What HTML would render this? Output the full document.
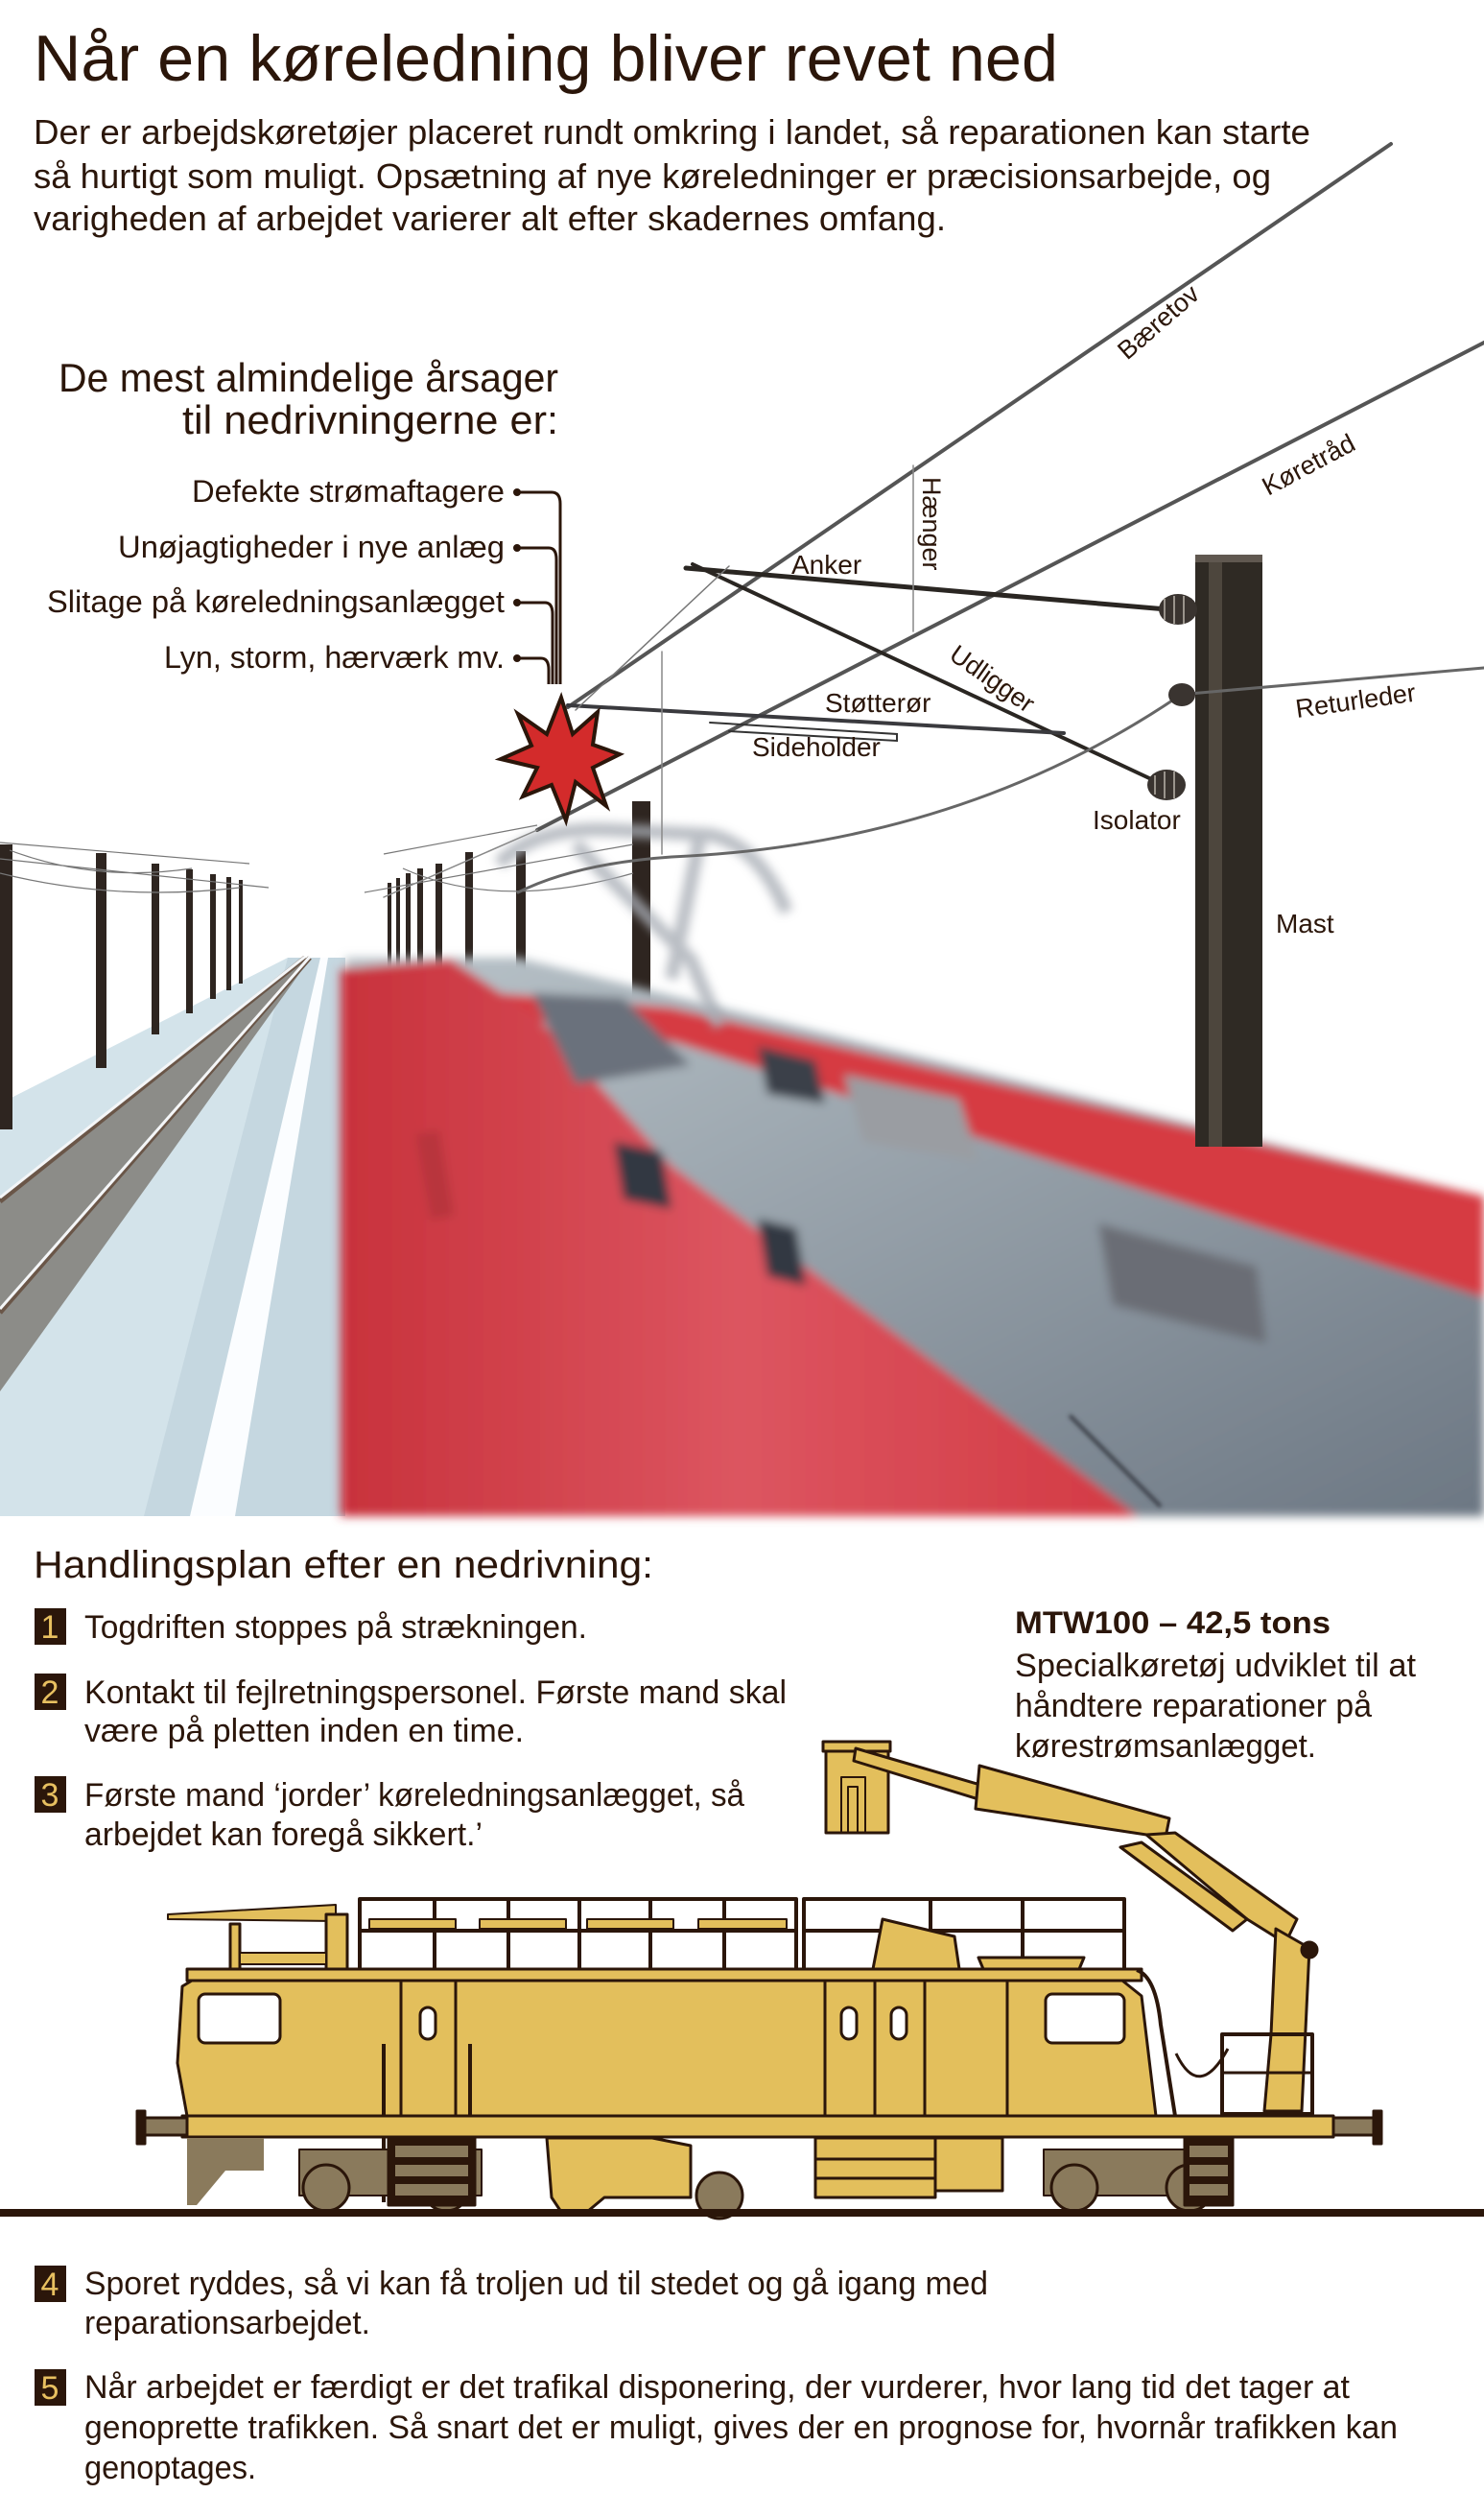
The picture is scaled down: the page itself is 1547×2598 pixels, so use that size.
<!DOCTYPE html>
<html><head><meta charset="utf-8">
<style>
html,body{margin:0;padding:0;background:#fff;}
svg{display:block;}
text{font-family:"Liberation Sans Narrow","Liberation Sans",sans-serif;fill:#2b160a;}
</style></head>
<body>
<svg width="1547" height="2598" viewBox="0 0 1547 2598" xmlns="http://www.w3.org/2000/svg">
<defs>
<filter id="bl" x="-20%" y="-20%" width="140%" height="140%"><feGaussianBlur stdDeviation="5"/></filter>
<filter id="bl2" x="-20%" y="-20%" width="140%" height="140%"><feGaussianBlur stdDeviation="2"/></filter>
<linearGradient id="gr" x1="0" y1="0" x2="1" y2="1"><stop offset="0" stop-color="#b9c3c9"/><stop offset="1" stop-color="#6c7783"/></linearGradient>
<linearGradient id="rd" x1="0" y1="0" x2="1" y2="0"><stop offset="0" stop-color="#c8323c"/><stop offset="0.5" stop-color="#dc5560"/><stop offset="1" stop-color="#d33a44"/></linearGradient>
</defs>

<!-- ===== Header text ===== -->
<text x="35" y="84" font-size="68" textLength="1068" lengthAdjust="spacingAndGlyphs">Når en køreledning bliver revet ned</text>
<text x="35" y="150" font-size="36" textLength="1331" lengthAdjust="spacingAndGlyphs">Der er arbejdskøretøjer placeret rundt omkring i landet, så reparationen kan starte</text>
<text x="35" y="196" font-size="36" textLength="1290" lengthAdjust="spacingAndGlyphs">så hurtigt som muligt. Opsætning af nye køreledninger er præcisionsarbejde, og</text>
<text x="35" y="240" font-size="36" textLength="951" lengthAdjust="spacingAndGlyphs">varigheden af arbejdet varierer alt efter skadernes omfang.</text>

<!-- ===== Photo: ground, track ===== -->
<polygon points="300,998 360,998 360,1580 0,1580 0,1150" fill="#d3e3ea"/>
<polygon points="300,998 360,998 360,1580 150,1580" fill="#c5d7e0"/>
<polygon points="0,1250 318,998 324,998 0,1450" fill="#8c8c88"/>
<g stroke="#6a5648" stroke-width="5">
<line x1="318" y1="998" x2="0" y2="1252"/><line x1="323" y1="998" x2="0" y2="1368"/></g>
<g stroke="#f4f6f8" stroke-width="3">
<line x1="318" y1="997" x2="0" y2="1248"/><line x1="323" y1="997" x2="0" y2="1364"/></g>
<polygon points="334,998 342,998 245,1580 198,1580" fill="#fbfdff"/>
<!-- left poles -->
<g fill="#2e2520">
<rect x="0" y="880" width="13" height="297"/><rect x="100" y="889" width="11" height="224"/>
<rect x="158" y="900" width="8" height="178"/><rect x="194" y="906" width="7" height="150"/>
<rect x="219" y="911" width="6" height="130"/><rect x="236" y="914" width="5" height="118"/>
<rect x="249" y="917" width="4" height="108"/>
<rect x="404" y="920" width="4" height="95"/><rect x="413" y="915" width="4" height="100"/>
<rect x="423" y="910" width="5" height="110"/><rect x="435" y="905" width="6" height="115"/>
<rect x="454" y="900" width="7" height="125"/><rect x="485" y="888" width="8" height="140"/>
<rect x="538" y="887" width="10" height="160"/><rect x="659" y="835" width="19" height="210"/>
</g>
<g stroke="#777" stroke-width="1.2" fill="none">
<path d="M0,878 L260,900 M0,895 L280,925 M10,886 Q100,920 200,905 M0,910 Q120,940 250,925"/>
<path d="M400,890 L560,860 M380,930 L660,880 M420,905 Q520,950 660,910"/>
</g>

<!-- ===== Photo: red train ===== -->
<g filter="url(#bl)">
<polygon points="360,998 540,998 1547,1247 1547,1580 380,1580" fill="url(#gr)"/>
<polygon points="520,1035 700,1050 1547,1247 1547,1352 700,1085 520,1058" fill="#d63a42"/>
<polygon points="355,1010 470,1000 560,1060 700,1215 1186,1580 355,1580" fill="url(#rd)"/>
<rect x="440" y="1180" width="25" height="90" fill="#b8343c" transform="rotate(-10 450 1220)"/>
<polygon points="555,1035 650,1040 720,1110 600,1130" fill="#6a717b"/>
<polygon points="790,1090 850,1105 860,1150 800,1140" fill="#3b3f48"/>
<polygon points="880,1120 1000,1145 1020,1210 900,1190" fill="#9a9da2"/>
<polygon points="1145,1275 1310,1320 1320,1400 1160,1360" fill="#6a6d74"/>
<polygon points="640,1190 690,1200 700,1260 650,1250" fill="#333842"/>
<polygon points="790,1270 830,1280 840,1340 800,1330" fill="#333842"/>
</g>
<line x1="1115" y1="1475" x2="1210" y2="1570" stroke="#3a3e46" stroke-width="4" filter="url(#bl2)"/>

<!-- pantograph blur -->
<g filter="url(#bl)" stroke="#a8adb5" fill="none" stroke-width="14" opacity="0.8">
<path d="M520,900 Q560,860 640,865 L740,870 Q790,880 820,950"/>
<path d="M600,880 L720,1000 L750,1070"/>
<path d="M730,870 L700,1020"/>
</g>

<!-- ===== Mast ===== -->
<rect x="1246" y="578" width="70" height="617" fill="#2f2a24"/>
<rect x="1260" y="578" width="14" height="617" fill="#4d463d"/>
<rect x="1246" y="578" width="70" height="8" fill="#605850"/>

<!-- ===== Wires ===== -->
<g fill="none" stroke-linecap="round">
<line x1="1450" y1="150" x2="592" y2="737" stroke="#555" stroke-width="4"/>
<line x1="1547" y1="357" x2="560" y2="865" stroke="#555" stroke-width="4"/>
<line x1="560" y1="865" x2="400" y2="935" stroke="#888" stroke-width="1.5"/>
<line x1="715" y1="592" x2="1228" y2="636" stroke="#2a2622" stroke-width="5"/>
<line x1="722" y1="588" x2="1213" y2="818" stroke="#2a2622" stroke-width="4"/>
<line x1="592" y1="735" x2="1109" y2="764" stroke="#3a3a3e" stroke-width="4"/>
<polyline points="740,753 935,765 935,772 760,762" stroke="#333" stroke-width="2"/>
<line x1="952" y1="485" x2="952" y2="658" stroke="#888" stroke-width="1.5"/>
<line x1="690" y1="679" x2="690" y2="890" stroke="#888" stroke-width="1.5"/>
<line x1="760" y1="590" x2="600" y2="740" stroke="#777" stroke-width="1.5"/>
<line x1="1228" y1="724" x2="1547" y2="696" stroke="#666" stroke-width="3"/>
<path d="M1228,726 Q1000,880 700,893 Q600,900 540,930" stroke="#666" stroke-width="3"/>
</g>
<g fill="#3a3430">
<ellipse cx="1228" cy="635" rx="20" ry="16"/><ellipse cx="1232" cy="724" rx="14" ry="12"/><ellipse cx="1216" cy="818" rx="20" ry="16"/>
</g>
<g stroke="#9a948c" stroke-width="2">
<line x1="1214" y1="624" x2="1214" y2="646"/><line x1="1224" y1="621" x2="1224" y2="650"/><line x1="1234" y1="621" x2="1234" y2="650"/>
<line x1="1204" y1="808" x2="1204" y2="828"/><line x1="1214" y1="804" x2="1214" y2="832"/><line x1="1224" y1="804" x2="1224" y2="832"/>
</g>

<!-- ===== Star ===== -->
<polygon points="585,727 597,765 623,742 618,776 646,786 618,800 632,840 600,815 590,855 575,818 545,830 560,800 522,791 554,777 540,744 570,765" fill="#d32b2b" stroke="#2b160a" stroke-width="4" stroke-linejoin="miter"/>

<!-- ===== Labels ===== -->
<text font-size="27" transform="translate(1175,376) rotate(-41)">Bæretov</text>
<text font-size="27" transform="translate(1322,517) rotate(-28)">Køretråd</text>
<text font-size="27" transform="translate(962,497) rotate(90)">Hænger</text>
<text x="825" y="598" font-size="28">Anker</text>
<text font-size="27" transform="translate(988,686) rotate(35)">Udligger</text>
<text x="860" y="742" font-size="28">Støtterør</text>
<text x="784" y="788" font-size="28">Sideholder</text>
<text font-size="27" transform="translate(1352,748) rotate(-8)">Returleder</text>
<text x="1139" y="864" font-size="28">Isolator</text>
<text x="1330" y="972" font-size="28">Mast</text>

<!-- ===== Causes ===== -->
<text x="61" y="408" font-size="42" textLength="521" lengthAdjust="spacingAndGlyphs">De mest almindelige årsager</text>
<text x="190" y="452" font-size="42" textLength="392" lengthAdjust="spacingAndGlyphs">til nedrivningerne er:</text>
<g font-size="32">
<text x="200" y="523" textLength="326" lengthAdjust="spacingAndGlyphs">Defekte strømaftagere</text>
<text x="123" y="581" textLength="403" lengthAdjust="spacingAndGlyphs">Unøjagtigheder i nye anlæg</text>
<text x="49" y="638" textLength="477" lengthAdjust="spacingAndGlyphs">Slitage på køreledningsanlægget</text>
<text x="171" y="696" textLength="355" lengthAdjust="spacingAndGlyphs">Lyn, storm, hærværk mv.</text>
</g>
<g fill="none" stroke="#2b160a" stroke-width="3">
<path d="M539,513 L575,513 Q584,513 584,525 L584,713"/>
<path d="M539,571 L572,571 Q580,571 580,583 L580,713"/>
<path d="M539,628 L568,628 Q576,628 576,640 L576,713"/>
<path d="M539,686 L564,686 Q572,686 572,698 L572,713"/>
</g>
<g fill="#2b160a"><circle cx="539" cy="513" r="4"/><circle cx="539" cy="571" r="4"/><circle cx="539" cy="628" r="4"/><circle cx="539" cy="686" r="4"/></g>

<!-- ===== Action plan ===== -->
<text x="35" y="1644" font-size="40" textLength="646" lengthAdjust="spacingAndGlyphs">Handlingsplan efter en nedrivning:</text>
<g font-size="34" fill="#e8c060">
<rect x="36" y="1676" width="33" height="38" fill="#2b160a"/><text x="52" y="1707" text-anchor="middle" style="fill:#e8c060">1</text>
<rect x="36" y="1744" width="33" height="38" fill="#2b160a"/><text x="52" y="1775" text-anchor="middle" style="fill:#e8c060">2</text>
<rect x="36" y="1851" width="33" height="38" fill="#2b160a"/><text x="52" y="1882" text-anchor="middle" style="fill:#e8c060">3</text>
<rect x="36" y="2361" width="33" height="38" fill="#2b160a"/><text x="52" y="2392" text-anchor="middle" style="fill:#e8c060">4</text>
<rect x="36" y="2469" width="33" height="38" fill="#2b160a"/><text x="52" y="2500" text-anchor="middle" style="fill:#e8c060">5</text>
</g>
<g font-size="34">
<text x="88" y="1707" textLength="524" lengthAdjust="spacingAndGlyphs">Togdriften stoppes på strækningen.</text>
<text x="88" y="1775" textLength="732" lengthAdjust="spacingAndGlyphs">Kontakt til fejlretningspersonel. Første mand skal</text>
<text x="88" y="1815" textLength="458" lengthAdjust="spacingAndGlyphs">være på pletten inden en time.</text>
<text x="88" y="1882" textLength="688" lengthAdjust="spacingAndGlyphs">Første mand ‘jorder’ køreledningsanlægget, så</text>
<text x="88" y="1923" textLength="415" lengthAdjust="spacingAndGlyphs">arbejdet kan foregå sikkert.’</text>
<text x="1058" y="1702" textLength="329" lengthAdjust="spacingAndGlyphs" font-weight="bold" font-size="32">MTW100 – 42,5 tons</text>
<text x="1058" y="1747" textLength="418" lengthAdjust="spacingAndGlyphs">Specialkøretøj udviklet til at</text>
<text x="1058" y="1789" textLength="372" lengthAdjust="spacingAndGlyphs">håndtere reparationer på</text>
<text x="1058" y="1831" textLength="314" lengthAdjust="spacingAndGlyphs">kørestrømsanlægget.</text>
<text x="88" y="2391" textLength="942" lengthAdjust="spacingAndGlyphs">Sporet ryddes, så vi kan få troljen ud til stedet og gå igang med</text>
<text x="88" y="2432" textLength="298" lengthAdjust="spacingAndGlyphs">reparationsarbejdet.</text>
<text x="88" y="2499" textLength="1319" lengthAdjust="spacingAndGlyphs">Når arbejdet er færdigt er det trafikal disponering, der vurderer, hvor lang tid det tager at</text>
<text x="88" y="2541" textLength="1369" lengthAdjust="spacingAndGlyphs">genoprette trafikken. Så snart det er muligt, gives der en prognose for, hvornår trafikken kan</text>
<text x="88" y="2583" textLength="179" lengthAdjust="spacingAndGlyphs">genoptages.</text>
</g>

<!-- ===== MTW100 drawing ===== -->
<g stroke="#2b160a" stroke-width="3" fill="#e3bf5c" stroke-linejoin="round">
<g fill="none" stroke-width="4">
<rect x="375" y="1979" width="455" height="74"/>
<line x1="375" y1="2012" x2="830" y2="2012"/>
<line x1="453" y1="1979" x2="453" y2="2053"/><line x1="530" y1="1979" x2="530" y2="2053"/>
<line x1="604" y1="1979" x2="604" y2="2053"/><line x1="678" y1="1979" x2="678" y2="2053"/>
<line x1="755" y1="1979" x2="755" y2="2053"/>
<rect x="838" y="1979" width="334" height="74"/>
<line x1="838" y1="2012" x2="1172" y2="2012"/>
<line x1="970" y1="1979" x2="970" y2="2053"/><line x1="1066" y1="1979" x2="1066" y2="2053"/>
</g>
<rect x="385" y="2000" width="90" height="10" stroke-width="2"/><rect x="500" y="2000" width="90" height="10" stroke-width="2"/>
<rect x="612" y="2000" width="90" height="10" stroke-width="2"/><rect x="728" y="2000" width="92" height="10" stroke-width="2"/>
<polygon points="910,2052 920,2000 995,2018 1000,2052" fill="#e3bf5c"/>
<polygon points="1020,2040 1130,2040 1125,2052 1025,2052"/>
<path d="M175,1995 L350,1985 L350,2002 L175,2000 Z" stroke-width="2"/>
<rect x="240" y="2005" width="10" height="50"/><rect x="340" y="1995" width="22" height="60"/>
<rect x="250" y="2035" width="90" height="12" stroke-width="2"/>
<rect x="195" y="2052" width="995" height="12"/>
<polygon points="200,2064 1170,2064 1190,2080 1205,2205 195,2205 185,2150 190,2070"/>
<rect x="207" y="2078" width="85" height="51" rx="7" fill="#fff"/>
<rect x="1090" y="2078" width="82" height="51" rx="7" fill="#fff"/>
<g fill="none"><line x1="418" y1="2064" x2="418" y2="2205"/><line x1="475" y1="2064" x2="475" y2="2205"/>
<line x1="860" y1="2064" x2="860" y2="2205"/><line x1="912" y1="2064" x2="912" y2="2205"/>
<line x1="964" y1="2064" x2="964" y2="2205"/><line x1="1050" y1="2064" x2="1050" y2="2205"/>
<line x1="400" y1="2130" x2="400" y2="2295" stroke-width="4"/><line x1="490" y1="2130" x2="490" y2="2295" stroke-width="4"/></g>
<rect x="438" y="2092" width="16" height="33" rx="8" fill="#fff"/>
<rect x="877" y="2092" width="16" height="33" rx="8" fill="#fff"/>
<rect x="929" y="2092" width="16" height="33" rx="8" fill="#fff"/>
<path d="M1185,2053 Q1205,2060 1210,2110 L1225,2205" fill="none" stroke-width="4"/>
<rect x="190" y="2205" width="1200" height="22"/>
<rect x="150" y="2207" width="45" height="18" fill="#8a7a5c"/><rect x="143" y="2200" width="8" height="34" fill="#2b160a"/>
<rect x="1390" y="2207" width="45" height="18" fill="#8a7a5c"/><rect x="1432" y="2200" width="8" height="34" fill="#2b160a"/>
<polygon points="195,2228 275,2228 275,2262 235,2262 205,2298 195,2298" fill="#8a7a5c" stroke="none"/>
<rect x="312" y="2240" width="190" height="48" fill="#8a7a5c" stroke-width="2"/>
<rect x="1088" y="2240" width="195" height="48" fill="#8a7a5c" stroke-width="2"/>
<circle cx="340" cy="2280" r="24" fill="#8a7a5c"/><circle cx="465" cy="2280" r="24" fill="#8a7a5c"/>
<circle cx="1120" cy="2280" r="24" fill="#8a7a5c"/><circle cx="1240" cy="2280" r="24" fill="#8a7a5c"/>
<rect x="405" y="2228" width="90" height="70" fill="#2b160a"/>
<g fill="#8a7a5c" stroke="none"><rect x="412" y="2236" width="76" height="12"/><rect x="412" y="2256" width="76" height="12"/><rect x="412" y="2276" width="76" height="12"/></g>
<rect x="1235" y="2228" width="50" height="70" fill="#2b160a"/>
<g fill="#8a7a5c" stroke="none"><rect x="1240" y="2236" width="40" height="12"/><rect x="1240" y="2256" width="40" height="12"/><rect x="1240" y="2276" width="40" height="12"/></g>
<polygon points="570,2228 680,2228 720,2236 720,2290 630,2290 612,2305 585,2305 575,2290"/>
<circle cx="750" cy="2288" r="24" fill="#8a7a5c"/>
<rect x="850" y="2228" width="125" height="62"/>
<line x1="850" y1="2250" x2="975" y2="2250"/><line x1="850" y1="2270" x2="975" y2="2270"/>
<rect x="975" y="2228" width="70" height="55"/>
<rect x="861" y="1817" width="65" height="93"/>
<rect x="858" y="1815" width="70" height="10"/>
<rect x="877" y="1852" width="25" height="58" fill="none" stroke-width="2"/>
<rect x="884" y="1862" width="10" height="48" fill="none" stroke-width="2"/>
<polygon points="892,1822 1022,1860 1020,1875 890,1835"/>
<polygon points="1021,1840 1219,1895 1215,1915 1017,1885"/>
<polygon points="1195,1912 1225,1910 1352,2000 1340,2025 1300,2000"/>
<polygon points="1168,1925 1190,1920 1300,2000 1285,2012"/>
<polygon points="1330,2010 1365,2030 1357,2200 1318,2200 1325,2120"/>
<circle cx="1365" cy="2032" r="8" fill="#2b160a"/>
<rect x="1274" y="2120" width="94" height="83" fill="none" stroke-width="4"/>
<line x1="1274" y1="2160" x2="1368" y2="2160" stroke-width="3"/>
<path d="M1226,2140 Q1250,2190 1280,2135" fill="none"/>
</g>
<rect x="0" y="2302" width="1547" height="8" fill="#2b160a"/>
</svg>
</body></html>
